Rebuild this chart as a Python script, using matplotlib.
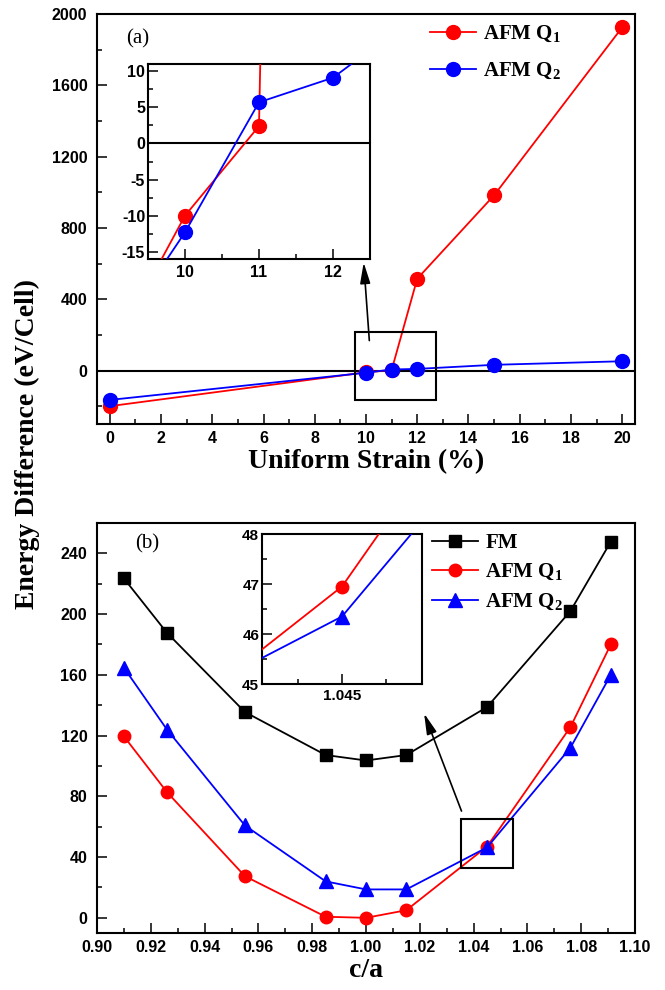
import matplotlib
matplotlib.use('Agg')
import matplotlib.pyplot as plt
from matplotlib.ticker import MultipleLocator, FormatStrFormatter
from matplotlib.patches import Rectangle

plt.rcParams['font.family'] = ['Liberation Sans']
plt.rcParams['font.weight'] = 'bold'
plt.rcParams['axes.unicode_minus'] = False
plt.rcParams['mathtext.fontset'] = 'custom'
plt.rcParams['mathtext.rm'] = 'Liberation Serif'
plt.rcParams['mathtext.bf'] = 'Liberation Serif:bold'

# (a) energy vs uniform strain
strain = [0, 10, 11, 12, 15, 20]
afm_q1_a = [-200, -10, 2.4, 515, 983, 1925]
afm_q2_a = [-165, -12.3, 5.7, 9.1, 32, 52]

# (b) energy vs c/a
ca = [0.91, 0.926, 0.955, 0.985, 1.0, 1.015, 1.045, 1.076, 1.091]
fm_b = [223.5, 187.7, 135.5, 107.2, 103.6, 107.2, 138.8, 202, 247.7]
afm_q1_b = [119.5, 82.8, 27.4, 0.7, 0, 5, 46.95, 125.6, 180]
afm_q2_b = [164.7, 124, 60.8, 24, 18.7, 18.7, 46.35, 112, 160]

RED = '#ff0000'
BLUE = '#0000ff'
SERIF_B = dict(family='Liberation Serif', weight='bold')
W, H = 665, 990


def px_axes(fig, l, t, r, b):
    return fig.add_axes([l / W, 1 - b / H, (r - l) / W, (b - t) / H])


def style(ax, size=11.5, xpad=5, ypad=7):
    ax.tick_params(which='both', direction='in', top=False, right=False,
                   width=1.1, labelsize=size)
    ax.tick_params(axis='x', pad=xpad)
    ax.tick_params(axis='y', pad=ypad)
    ax.tick_params(which='major', length=7)
    ax.tick_params(which='minor', length=3.5)
    for s in ax.spines.values():
        s.set_linewidth(1.5)


def arrow(ax, tail, head):
    ax.annotate('', xy=head, xytext=tail,
                arrowprops=dict(arrowstyle='-|>,head_length=0.9,head_width=0.22', color='k', lw=1.2,
                                mutation_scale=14, shrinkA=0, shrinkB=0))


fig = plt.figure(figsize=(W / 100, H / 100), dpi=100)

# ---------------- panel (a) ----------------
ax1 = px_axes(fig, 97, 14, 635, 424)
ax1.axhline(0, color='k', lw=1.5, zorder=1)
ax1.plot(strain, afm_q1_a, '-o', color=RED, lw=1.3, ms=10, label='AFM Q$_\\mathbf{1}$', zorder=3)
ax1.plot(strain, afm_q2_a, '-o', color=BLUE, lw=1.3, ms=10, label='AFM Q$_\\mathbf{2}$', zorder=4)
ax1.set_xlim(-0.5, 20.5)
ax1.set_ylim(-300, 2000)
ax1.xaxis.set_major_locator(MultipleLocator(2))
ax1.xaxis.set_minor_locator(MultipleLocator(1))
ax1.yaxis.set_major_locator(MultipleLocator(400))
ax1.yaxis.set_minor_locator(MultipleLocator(200))
style(ax1)
ax1.set_xlabel('Uniform Strain (%)', fontsize=20, labelpad=2, **SERIF_B)
ax1.text(1.1, 1860, '(a)', fontsize=15, family='Liberation Serif', weight='normal',
         ha='center', va='center')
ax1.add_patch(Rectangle((9.57, -163), 3.15, 378, fill=False, ec='k', lw=1.5, zorder=5))
arrow(ax1, (10.13, 168), (9.91, 606))
ax1.legend(loc='upper left', bbox_to_anchor=(430 / W, 1 - 24 / H), bbox_transform=fig.transFigure,
           frameon=False, prop=dict(size=15, **SERIF_B), borderpad=0, borderaxespad=0,
           handlelength=2.2, handletextpad=0.35, labelspacing=0.74)

# inset (a)
in1 = px_axes(fig, 148, 64, 370, 259)
in1.axhline(0, color='k', lw=1.5, zorder=1)
in1.plot(strain, afm_q1_a, '-o', color=RED, lw=1.3, ms=10, zorder=3)
in1.plot(strain, afm_q2_a, '-o', color=BLUE, lw=1.3, ms=10, zorder=4)
in1.set_xlim(9.5, 12.5)
in1.set_ylim(-16, 11)
in1.xaxis.set_major_locator(MultipleLocator(1))
in1.xaxis.set_minor_locator(MultipleLocator(0.5))
in1.yaxis.set_major_locator(MultipleLocator(5))
in1.yaxis.set_minor_locator(MultipleLocator(2.5))
style(in1, size=11.5, xpad=4.5, ypad=2)

# ---------------- panel (b) ----------------
ax2 = px_axes(fig, 97, 523, 635, 933)
ax2.plot(ca, fm_b, '-s', color='k', lw=1.3, ms=8, label='FM', zorder=3)
ax2.plot(ca, afm_q1_b, '-o', color=RED, lw=1.3, ms=9, label='AFM Q$_\\mathbf{1}$', zorder=4)
ax2.plot(ca, afm_q2_b, '-^', color=BLUE, lw=1.3, ms=9.5, label='AFM Q$_\\mathbf{2}$', zorder=5)
ax2.set_xlim(0.9, 1.1)
ax2.set_ylim(-10, 260)
ax2.xaxis.set_major_locator(MultipleLocator(0.02))
ax2.xaxis.set_minor_locator(MultipleLocator(0.01))
ax2.xaxis.set_major_formatter(FormatStrFormatter('%.2f'))
ax2.yaxis.set_major_locator(MultipleLocator(40))
ax2.yaxis.set_minor_locator(MultipleLocator(20))
style(ax2)
ax2.set_xlabel('c/a', fontsize=20, labelpad=2, **SERIF_B)
ax2.text(0.9185, 246, '(b)', fontsize=15, family='Liberation Serif', weight='normal',
         ha='center', va='center')
ax2.add_patch(Rectangle((1.0355, 33), 0.0193, 32.4, fill=False, ec='k', lw=1.5, zorder=6))
arrow(ax2, (1.0355, 70.3), (1.0216, 134.6))
ax2.legend(loc='upper left', bbox_to_anchor=(432 / W, 1 - 533 / H), bbox_transform=fig.transFigure,
           frameon=False, prop=dict(size=15, **SERIF_B), borderpad=0, borderaxespad=0,
           handlelength=2.2, handletextpad=0.35, labelspacing=0.42)

# inset (b)
in2 = px_axes(fig, 262, 534, 422, 684)
in2.plot(ca, fm_b, '-s', color='k', lw=1.3, ms=8, zorder=3)
in2.plot(ca, afm_q1_b, '-o', color=RED, lw=1.3, ms=9, zorder=4)
in2.plot(ca, afm_q2_b, '-^', color=BLUE, lw=1.3, ms=9.5, zorder=5)
in2.set_xlim(1.0441, 1.0459)
in2.set_ylim(45, 48)
in2.xaxis.set_major_locator(MultipleLocator(0.001))
in2.xaxis.set_minor_locator(MultipleLocator(0.0005))
in2.xaxis.set_major_formatter(FormatStrFormatter('%.3f'))
in2.yaxis.set_major_locator(MultipleLocator(1))
in2.yaxis.set_minor_locator(MultipleLocator(0.5))
style(in2, size=11, xpad=3.5, ypad=2)

fig.text(27 / W, 1 - 444 / H, 'Energy Difference (eV/Cell)', rotation=90,
         ha='center', va='center', fontsize=20, **SERIF_B)

fig.savefig('out.png', dpi=100)
